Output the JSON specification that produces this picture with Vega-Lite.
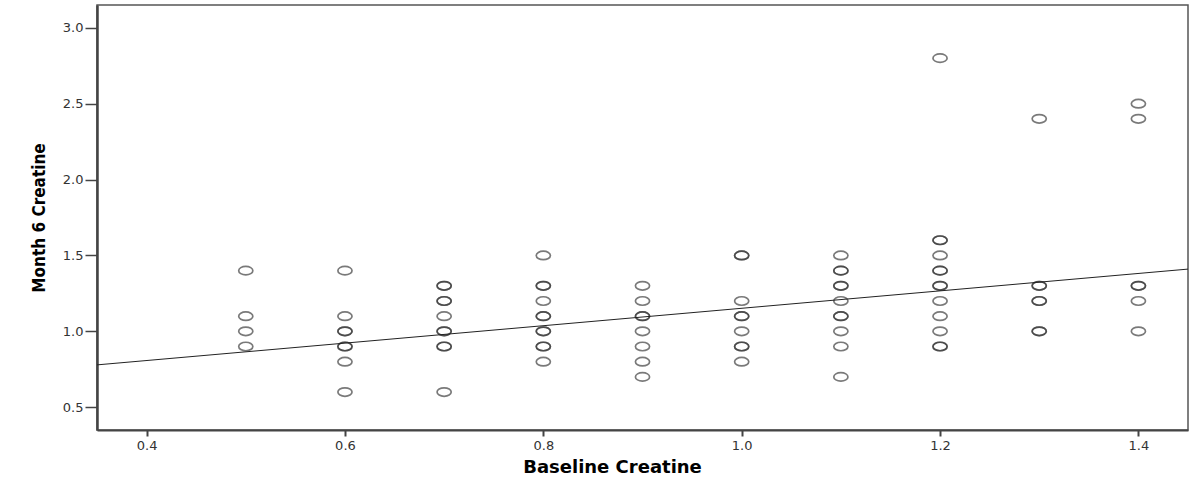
{
  "$schema": "https://vega.github.io/schema/vega-lite/v6.json",
  "autosize": "none",
  "width": 1091,
  "height": 425,
  "padding": {"left": 97, "top": 5, "right": 2, "bottom": 48},
  "background": "white",
  "config": {
    "view": {"stroke": "#555", "strokeWidth": 1.5},
    "axis": {"grid": false, "labelFont": "DejaVu Sans", "labelColor": "#333", "domainColor": "#444", "tickColor": "#444"}
  },
  "datasets": {
    "pts": [
      {"baseline": 0.5, "month6": 1.4}, {"baseline": 0.5, "month6": 1.1}, {"baseline": 0.5, "month6": 1.0}, {"baseline": 0.5, "month6": 0.9},
      {"baseline": 0.6, "month6": 1.4}, {"baseline": 0.6, "month6": 1.1}, {"baseline": 0.6, "month6": 1.0}, {"baseline": 0.6, "month6": 1.0}, {"baseline": 0.6, "month6": 0.9}, {"baseline": 0.6, "month6": 0.9}, {"baseline": 0.6, "month6": 0.8}, {"baseline": 0.6, "month6": 0.6},
      {"baseline": 0.7, "month6": 1.3}, {"baseline": 0.7, "month6": 1.3}, {"baseline": 0.7, "month6": 1.2}, {"baseline": 0.7, "month6": 1.2}, {"baseline": 0.7, "month6": 1.1}, {"baseline": 0.7, "month6": 1.0}, {"baseline": 0.7, "month6": 1.0}, {"baseline": 0.7, "month6": 0.9}, {"baseline": 0.7, "month6": 0.9}, {"baseline": 0.7, "month6": 0.6},
      {"baseline": 0.8, "month6": 1.5}, {"baseline": 0.8, "month6": 1.3}, {"baseline": 0.8, "month6": 1.3}, {"baseline": 0.8, "month6": 1.2}, {"baseline": 0.8, "month6": 1.1}, {"baseline": 0.8, "month6": 1.1}, {"baseline": 0.8, "month6": 1.0}, {"baseline": 0.8, "month6": 1.0}, {"baseline": 0.8, "month6": 0.9}, {"baseline": 0.8, "month6": 0.9}, {"baseline": 0.8, "month6": 0.8},
      {"baseline": 0.9, "month6": 1.3}, {"baseline": 0.9, "month6": 1.2}, {"baseline": 0.9, "month6": 1.1}, {"baseline": 0.9, "month6": 1.1}, {"baseline": 0.9, "month6": 1.0}, {"baseline": 0.9, "month6": 0.9}, {"baseline": 0.9, "month6": 0.8}, {"baseline": 0.9, "month6": 0.7},
      {"baseline": 1.0, "month6": 1.5}, {"baseline": 1.0, "month6": 1.5}, {"baseline": 1.0, "month6": 1.2}, {"baseline": 1.0, "month6": 1.1}, {"baseline": 1.0, "month6": 1.1}, {"baseline": 1.0, "month6": 1.0}, {"baseline": 1.0, "month6": 0.9}, {"baseline": 1.0, "month6": 0.9}, {"baseline": 1.0, "month6": 0.8},
      {"baseline": 1.1, "month6": 1.5}, {"baseline": 1.1, "month6": 1.4}, {"baseline": 1.1, "month6": 1.4}, {"baseline": 1.1, "month6": 1.3}, {"baseline": 1.1, "month6": 1.3}, {"baseline": 1.1, "month6": 1.2}, {"baseline": 1.1, "month6": 1.1}, {"baseline": 1.1, "month6": 1.1}, {"baseline": 1.1, "month6": 1.0}, {"baseline": 1.1, "month6": 0.9}, {"baseline": 1.1, "month6": 0.7},
      {"baseline": 1.2, "month6": 2.8}, {"baseline": 1.2, "month6": 1.6}, {"baseline": 1.2, "month6": 1.6}, {"baseline": 1.2, "month6": 1.5}, {"baseline": 1.2, "month6": 1.4}, {"baseline": 1.2, "month6": 1.4}, {"baseline": 1.2, "month6": 1.3}, {"baseline": 1.2, "month6": 1.3}, {"baseline": 1.2, "month6": 1.2}, {"baseline": 1.2, "month6": 1.1}, {"baseline": 1.2, "month6": 1.0}, {"baseline": 1.2, "month6": 0.9}, {"baseline": 1.2, "month6": 0.9},
      {"baseline": 1.3, "month6": 2.4}, {"baseline": 1.3, "month6": 1.3}, {"baseline": 1.3, "month6": 1.3}, {"baseline": 1.3, "month6": 1.2}, {"baseline": 1.3, "month6": 1.2}, {"baseline": 1.3, "month6": 1.0}, {"baseline": 1.3, "month6": 1.0},
      {"baseline": 1.4, "month6": 2.5}, {"baseline": 1.4, "month6": 2.4}, {"baseline": 1.4, "month6": 1.3}, {"baseline": 1.4, "month6": 1.3}, {"baseline": 1.4, "month6": 1.2}, {"baseline": 1.4, "month6": 1.0}
    ],
    "fit": [
      {"baseline": 0.35, "month6": 0.779},
      {"baseline": 1.45, "month6": 1.41}
    ]
  },
  "encoding": {
    "x": {
      "field": "baseline", "type": "quantitative",
      "scale": {"domain": [0.35, 1.45], "nice": false, "zero": false},
      "axis": {
        "title": "Baseline Creatine", "values": [0.4, 0.6, 0.8, 1.0, 1.2, 1.4], "format": ".1f",
        "labelFontSize": 13, "labelPadding": 3, "tickSize": 6, "tickWidth": 2, "domainWidth": 2,
        "titleFont": "DejaVu Sans", "titleFontSize": 18, "titleFontWeight": "bold", "titleColor": "#000",
        "titlePadding": 6, "titleX": 515
      }
    },
    "y": {
      "field": "month6", "type": "quantitative",
      "scale": {"domain": [0.35, 3.15], "nice": false, "zero": false},
      "axis": {
        "title": "Month 6 Creatine", "values": [0.5, 1.0, 1.5, 2.0, 2.5, 3.0], "format": ".1f",
        "labelFontSize": 13, "labelPadding": 2, "tickSize": 12, "tickWidth": 1.5, "domainWidth": 2.5,
        "titleFont": "DejaVu Sans Condensed", "titleFontSize": 17, "titleFontWeight": "bold", "titleColor": "#000",
        "titlePadding": 14
      }
    }
  },
  "layer": [
    {
      "data": {"name": "pts"},
      "mark": {
        "type": "point",
        "shape": "M-1,0 A1,0.6 0 1,1 1,0 A1,0.6 0 1,1 -1,0 Z",
        "size": 200, "filled": false, "stroke": "#333", "strokeWidth": 1.7, "opacity": 0.65
      }
    },
    {
      "data": {"name": "fit"},
      "mark": {"type": "line", "color": "#222", "strokeWidth": 1, "clip": true}
    }
  ]
}
